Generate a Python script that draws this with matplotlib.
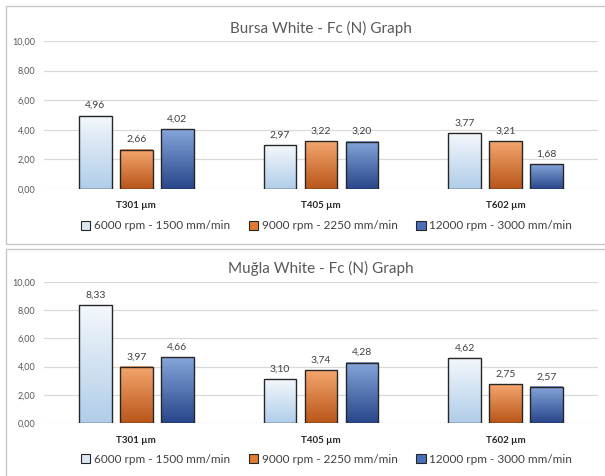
import matplotlib.pyplot as plt
import numpy as np
from matplotlib.colors import LinearSegmentedColormap
from matplotlib.patches import Patch, Rectangle

plt.rcParams['font.family'] = ['Lato', 'DejaVu Sans']

tools = ["T301 µm", "T405 µm", "T602 µm"]
series = ["6000 rpm - 1500 mm/min", "9000 rpm - 2250 mm/min", "12000 rpm - 3000 mm/min"]

bursa_6000 = [4.96, 2.97, 3.77]
bursa_9000 = [2.66, 3.22, 3.21]
bursa_12000 = [4.02, 3.20, 1.68]

mugla_6000 = [8.33, 3.10, 4.62]
mugla_9000 = [3.97, 3.74, 2.75]
mugla_12000 = [4.66, 4.28, 2.57]

# gradient colours (bottom, top) for each series
grads = [("#b0cde9", "#f4f8fc"), ("#b9561a", "#f4a66e"), ("#28468a", "#86a5da")]
mids = ["#dbe7f4", "#e07b34", "#4a6fba"]

fig = plt.figure(figsize=(6.05, 4.76), dpi=100)

# panel borders
for y0, h in [(1 - 244 / 476, (244 - 6) / 476), (-0.05, (476 - 249) / 476 + 0.05)]:
    fig.patches.append(Rectangle((6 / 605, y0), 1.1, h, transform=fig.transFigure,
                                 facecolor="none", edgecolor="#c8c8c8", lw=1, zorder=-1))


def draw(ax, title, data, leg_y):
    x = np.arange(len(tools))
    w = 0.178
    step = 0.222
    for k, vals in enumerate(data):
        cmap = LinearSegmentedColormap.from_list("g%d" % k, grads[k])
        for i, v in enumerate(vals):
            xc = x[i] + (k - 1) * step
            ax.bar(xc, v, width=w, color="none", edgecolor="#262626", lw=1.0, zorder=3)
            ax.imshow(np.linspace(0, 1, 100).reshape(-1, 1), cmap=cmap,
                      origin="lower", extent=[xc - w / 2, xc + w / 2, 0, v],
                      aspect="auto", zorder=2)
            ax.annotate(f"{v:.2f}".replace(".", ","), (xc, v), xytext=(0, 4),
                        textcoords="offset points", ha="center", va="bottom",
                        fontsize=7.5, color="#404040")
    ax.set_xlim(-0.5, 2.5)
    ax.set_ylim(0, 10)
    ax.set_yticks(np.arange(0, 11, 2))
    ax.set_yticklabels([f"{t:.2f}".replace(".", ",") for t in np.arange(0, 11, 2)])
    ax.set_xticks(x, labels=tools)
    for lab in ax.get_xticklabels():
        lab.set_fontweight("bold")
    ax.tick_params(axis="y", length=0, labelsize=6.5, labelcolor="#595959", pad=6)
    ax.tick_params(axis="x", length=0, labelsize=7, labelcolor="#262626", pad=9)
    ax.grid(axis="y", color="#d9d9d9", lw=0.9, zorder=0)
    ax.set_axisbelow(True)
    for s in ax.spines.values():
        s.set_visible(False)
    ax.set_facecolor("none")
    ax.set_title(title, fontsize=11, color="#595959", pad=6)
    handles = [Patch(facecolor=mids[k], edgecolor="#262626", lw=0.8) for k in range(3)]
    ax.legend(handles, series, ncol=3, frameon=False, loc="upper center",
              bbox_to_anchor=(0.51, leg_y), fontsize=8.5, labelcolor="#404040",
              handlelength=0.8, handleheight=0.8, handletextpad=0.3, columnspacing=1.6)


ax1 = fig.add_axes([44 / 605, 0.603, 554 / 605, 0.311])
draw(ax1, "Bursa White - Fc (N) Graph", [bursa_6000, bursa_9000, bursa_12000], -0.14)

ax2 = fig.add_axes([44 / 605, 0.111, 554 / 605, 0.297])
draw(ax2, "Muğla White - Fc (N) Graph", [mugla_6000, mugla_9000, mugla_12000], -0.143)

fig.savefig("out.png", dpi=100)
